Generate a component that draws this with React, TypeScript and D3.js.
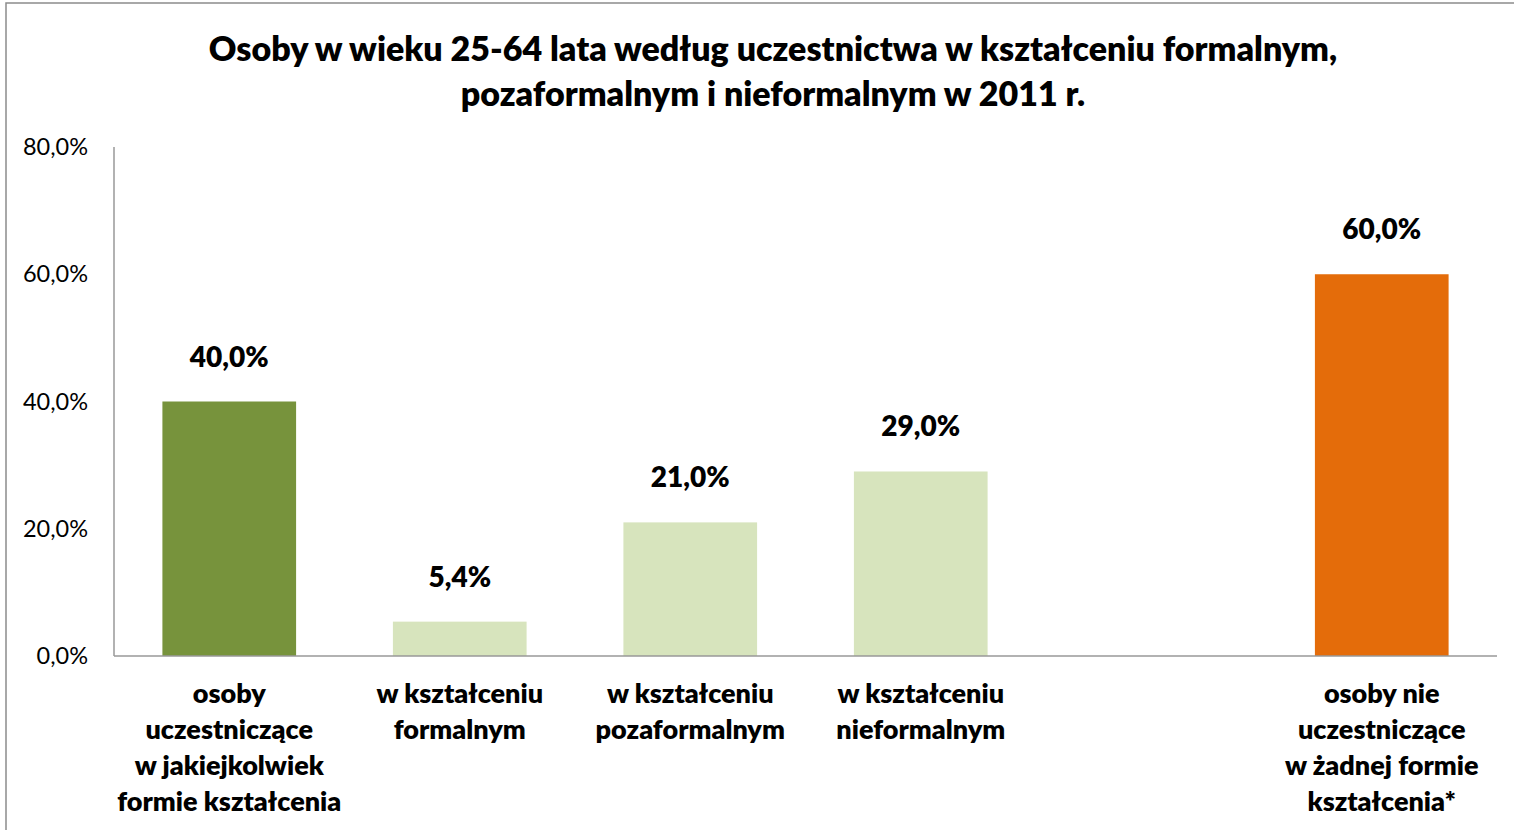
import React from "react";
import * as d3 from "d3";

const titleLines = [
  "Osoby w wieku 25-64 lata według uczestnictwa w kształceniu formalnym,",
  "pozaformalnym i nieformalnym w 2011 r.",
];
const categories = ["c0", "c1", "c2", "c3", "gap", "c5"];
const categoryLabels = [
  ["osoby", "uczestniczące", "w jakiejkolwiek", "formie kształcenia"],
  ["w kształceniu", "formalnym"],
  ["w kształceniu", "pozaformalnym"],
  ["w kształceniu", "nieformalnym"],
  [],
  ["osoby nie", "uczestniczące", "w żadnej formie", "kształcenia*"],
];
const values: (number | null)[] = [40.0, 5.4, 21.0, 29.0, null, 60.0];
const barColors = ["#77933C", "#D7E4BD", "#D7E4BD", "#D7E4BD", "none", "#E46C0A"];
const yTicks = [0, 20, 40, 60, 80];

const FONT = "Lato, 'Open Sans', sans-serif";
const fmt = (v: number) => v.toFixed(1).replace(".", ",") + "%";

export default function App() {
  const W = 1514, H = 830;
  const left = 114, right = 1497, top = 147, bottom = 656;
  const x = d3.scaleBand<string>().domain(categories).range([left, right]).paddingInner(0.42).paddingOuter(0.21);
  const y = d3.scaleLinear().domain([0, 80]).range([bottom, top]);

  return (
    <svg width={W} height={H} style={{ position: "absolute", left: 0, top: 0, background: "#fff" }} fontFamily={FONT}>
      <rect x={6} y={3} width={W} height={H} fill="#fff" stroke="#8c8c8c" strokeWidth={1.5} />
      {titleLines.map((t, i) => (
        <text key={i} x={773} y={61 + i * 45} textAnchor="middle" fontSize={34} fontWeight={800} fill="#000">
          {t}
        </text>
      ))}
      {yTicks.map((t) => (
        <text key={t} x={88} y={y(t) + 8} textAnchor="end" fontSize={23.5} fill="#000">
          {fmt(t)}
        </text>
      ))}
      {categories.map((c, i) => {
        const v = values[i];
        if (v === null) return null;
        const bx = x(c)!;
        return (
          <g key={c}>
            <rect x={bx} y={y(v)} width={x.bandwidth()} height={bottom - y(v)} fill={barColors[i]} />
            <text x={bx + x.bandwidth() / 2} y={y(v) - 35} textAnchor="middle" fontSize={28} fontWeight={800} fill="#000">
              {fmt(v)}
            </text>
          </g>
        );
      })}
      <line x1={left} x2={left} y1={top} y2={bottom} stroke="#999" strokeWidth={1.5} />
      <line x1={left} x2={right} y1={bottom} y2={bottom} stroke="#999" strokeWidth={1.5} />
      {categories.map((c, i) => (
        <text key={c} textAnchor="middle" fontSize={27} fontWeight={800} fill="#000">
          {categoryLabels[i].map((l, j) => (
            <tspan key={j} x={x(c)! + x.bandwidth() / 2} y={703 + j * 36}>
              {l}
            </tspan>
          ))}
        </text>
      ))}
    </svg>
  );
}
